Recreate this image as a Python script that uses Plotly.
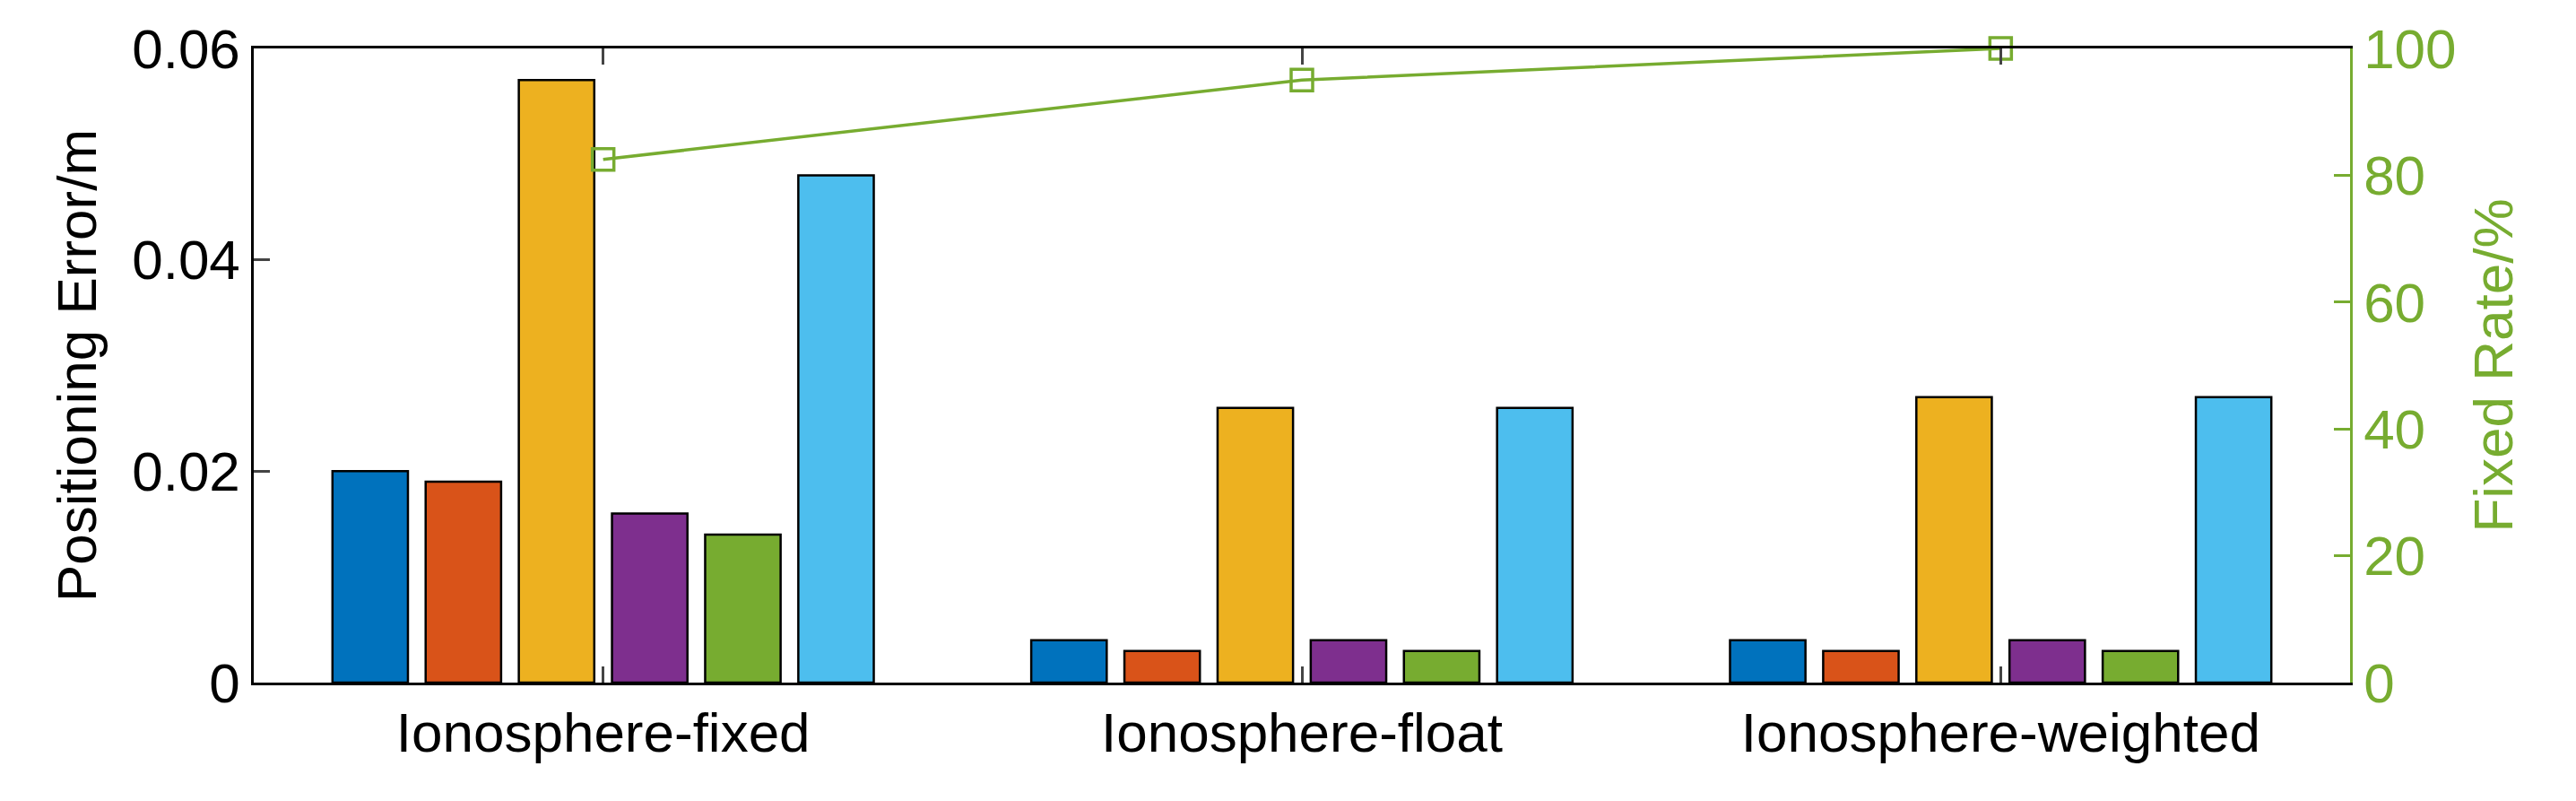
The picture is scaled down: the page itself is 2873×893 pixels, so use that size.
import plotly.graph_objects as go

categories = ["Ionosphere-fixed", "Ionosphere-float", "Ionosphere-weighted"]
series = [
    [0.020, 0.004, 0.004],
    [0.019, 0.003, 0.003],
    [0.057, 0.026, 0.027],
    [0.016, 0.004, 0.004],
    [0.014, 0.003, 0.003],
    [0.048, 0.026, 0.027],
]
fixed_rate = [82.5, 95, 100]
colors = ["#0072BD", "#D95319", "#EDB120", "#7E2F8E", "#77AC30", "#4DBEEE"]
green = "#77AC30"

fig = go.Figure()
xs = [0, 1, 2]
for vals, c in zip(series, colors):
    fig.add_trace(go.Bar(x=xs, y=vals, marker=dict(color=c, line=dict(color="black", width=2.5)),
                         showlegend=False))
fig.add_trace(go.Scatter(x=xs, y=fixed_rate, yaxis="y2", mode="lines+markers",
                         line=dict(color=green, width=3.5),
                         marker=dict(symbol="square-open", size=24, color=green, line=dict(width=3.5)),
                         showlegend=False, cliponaxis=False))

fs = 62
font = dict(family="Liberation Sans, Arial", size=fs, color="black")
fig.update_layout(
    width=2873, height=893, margin=dict(l=275, r=260, t=40, b=140),
    plot_bgcolor="white", paper_bgcolor="white", font=font,
    barmode="group", bargap=0.2, bargroupgap=0.19,
    xaxis=dict(range=[-0.5, 2.5], tickvals=xs, ticktext=categories, ticks="inside",
               ticklen=18, tickwidth=2.5, showline=True, linecolor="black", linewidth=2.5,
               mirror="ticks", showgrid=False, zeroline=False, tickfont=dict(size=fs)),
    yaxis=dict(range=[0, 0.06], tickvals=[0, 0.02, 0.04, 0.06], ticktext=["0", "0.02", "0.04", "0.06"],
               ticks="inside", ticklen=18, tickwidth=2.5, showline=True, linecolor="black",
               linewidth=2.5, showgrid=False, zeroline=False, tickfont=dict(size=fs),
               title=dict(text="Positioning Error/m", font=dict(size=fs), standoff=20)),
    yaxis2=dict(range=[0, 100], overlaying="y", side="right", tickvals=[0, 20, 40, 60, 80, 100],
                ticks="inside", ticklen=18, tickwidth=2.5, showline=True, linecolor=green,
                linewidth=2.5, showgrid=False, zeroline=False, tickcolor=green,
                tickfont=dict(color=green, size=fs),
                title=dict(text="Fixed Rate/%", font=dict(color=green, size=fs), standoff=20)),
)
fig.write_html("out.html")
